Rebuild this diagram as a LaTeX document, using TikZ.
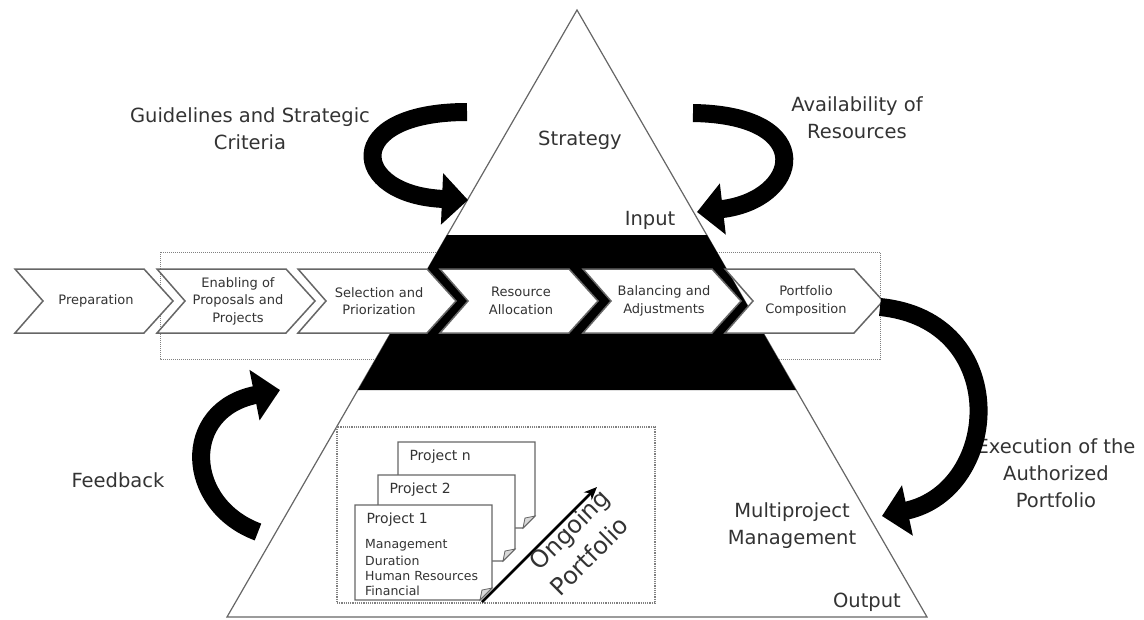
\documentclass[tikz,border=0pt]{standalone}
\usepackage{fontspec}
\setmainfont{DejaVu Sans}
\usetikzlibrary{arrows.meta}

\begin{document}
\begin{tikzpicture}[x=1pt,y=-1pt,>=Stealth,
  big/.style={font=\fontsize{19.5}{27}\selectfont,text=black!80,align=center},
  chevtxt/.style={font=\fontsize{13}{17.5}\selectfont,text=black!80,align=center},
  chev/.style={draw=black!60,line width=1.5,fill=white},
  card/.style={draw=black!60,line width=1.2,fill=white},
  ongo/.style={font=\fontsize{24}{26}\selectfont,text=black!80,rotate=45,inner sep=0},
  bigarrow/.style={line width=18,-{Triangle[length=26pt,width=50pt]}}]
\useasboundingbox (0,0) rectangle (1144,619);
% Rahmen Prozess
\draw[black!50,densely dotted,line width=1] (160,252) rectangle (880,359);
% Pyramide
\draw[black!60,line width=1.2,fill=white] (577,10) -- (927,617) -- (227,617) -- cycle;
\fill (447,235) -- (707,235) -- (796,390) -- (358,390) -- cycle;
% Prozessschritte
\foreach \s/\t [count=\i] in {15/Preparation,157/{Enabling of\\Proposals and\\Projects},
  298/{Selection and\\Priorization},440/{Resource\\Allocation},
  583/{Balancing and\\Adjustments},725/{Portfolio\\Composition}}{
  \draw[chev] (\s,269) -- ++(129,0) -- ++(29,32) -- ++(-29,32) -- ++(-129,0) -- ++(28,-32) -- cycle;
  \node[chevtxt] (c\i) at (\s+81,301) {\t};}
% laufendes Portfolio
\draw[black!50,densely dotted,line width=1.2] (337,427) rectangle (655,603);
\foreach \l/\u/\h/\n in {398/442/86/n,378/475/86/2,355/505/95/1}{
  \draw[card] (\l,\u) -- ++(137,0) -- ++(0,\h-12) -- ++(-12,12) -- ++(-125,0) -- cycle;
  \draw[card,fill=black!15,line width=0.8] (\l+137,\u+\h-12) -- (\l+125,\u+\h) -- (\l+127,\u+\h-10) -- cycle;
  \node[font=\fontsize{14}{16}\selectfont,text=black!80,anchor=west] (p\n) at (\l+8,\u+15) {Project \n};}
\foreach \w [count=\j] in {Management,Duration,Human Resources,Financial}
  \node[font=\fontsize{12.5}{14}\selectfont,text=black!80,anchor=west,inner sep=0] (d\j) at (365,530+15.3*\j) {\w};
\coordinate (og1) at (482,602); \coordinate (og2) at (597,487);
\draw[->,line width=2.5,>={Stealth[length=13pt,width=11pt]}] (og1) -- (og2);
\node[ongo] (ongo1) at (571,531) {Ongoing};
\node[ongo] (ongo2) at (589,556) {Portfolio};
% Beschriftungen
\node[big] (strat) at (580,140) {Strategy};
\node[big] (inp) at (650,220) {Input};
\node[big] (guide) at (250,129) {Guidelines and Strategic\\Criteria};
\node[big] (avail) at (857,118) {Availability of\\Resources};
\node[big] (exec) at (1056,473) {Execution of the\\Authorized\\Portfolio};
\node[big] (feed) at (118,480) {Feedback};
\node[big] (multi) at (792,526) {Multiproject\\Management};
\node[big] (outp) at (867,602) {Output};
% Pfeile
\draw[bigarrow] (467,112) .. controls (340,112) and (350,195) .. (468,200);
\draw[bigarrow] (693,113) .. controls (820,115) and (800,200) .. (697,212);
\draw[bigarrow] (880,307) .. controls (1012,320) and (1002,490) .. (882,516);
\draw[bigarrow] (258,532) .. controls (185,505) and (180,410) .. (280,390);
\end{tikzpicture}
\end{document}
